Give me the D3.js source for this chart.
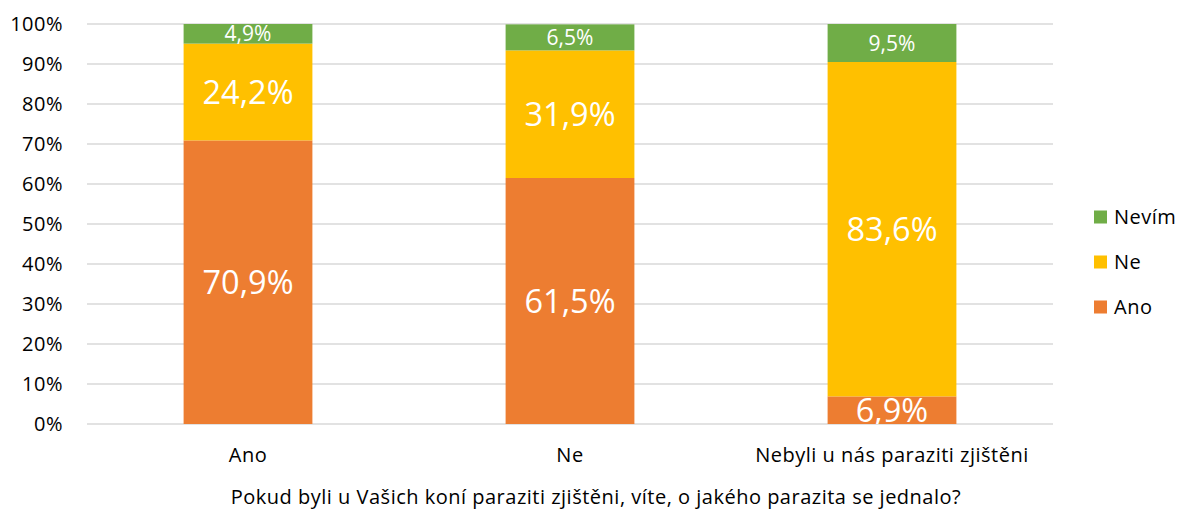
<!DOCTYPE html>
<html>
<head>
<meta charset="utf-8">
<script src="https://cdn.jsdelivr.net/npm/d3@7"></script>
<style>
  html, body { margin: 0; padding: 0; background: #fff; }
  svg { display: block; font-family: "Open Sans", Lato, sans-serif; }
</style>
</head>
<body>
<svg id="chart" width="1177" height="511"></svg>
<script>
// Answer categories on the x axis
const categories = ["Ano", "Ne", "Nebyli u nás paraziti zjištěni"];
// Stacked series (bottom to top), values in percent
const seriesNames = ["Ano", "Ne", "Nevím"];
const anoValues = [70.9, 61.5, 6.9];
const neValues = [24.2, 31.9, 83.6];
const nevimValues = [4.9, 6.5, 9.5];
const yTicks = [0, 10, 20, 30, 40, 50, 60, 70, 80, 90, 100];
const axisTitle = "Pokud byli u Vašich koní paraziti zjištěni, víte, o jakého parazita se jednalo?";

const colors = { "Ano": "#ED7D31", "Ne": "#FFC000", "Nevím": "#70AD47" };
const FONT = "'Open Sans', Lato, sans-serif";
const textSize = 20;
const spacing = "0.5px";

const svg = d3.select("#chart");
const plot = { left: 87, right: 1053, top: 24, bottom: 424 };

const x = d3.scaleBand()
  .domain(categories)
  .range([plot.left, plot.right])
  .paddingInner(0.6)
  .paddingOuter(0.3);

const y = d3.scaleLinear().domain([0, 100]).range([plot.bottom, plot.top]);

// Table of rows for the stack layout
const rows = categories.map((c, i) => ({
  cat: c, "Ano": anoValues[i], "Ne": neValues[i], "Nevím": nevimValues[i]
}));
const stacked = d3.stack().keys(seriesNames)(rows);

// Gridlines
svg.append("g")
  .selectAll("line")
  .data(yTicks)
  .join("line")
  .attr("x1", plot.left).attr("x2", plot.right)
  .attr("y1", d => y(d)).attr("y2", d => y(d))
  .attr("stroke", "#D9D9D9").attr("stroke-width", 1.3);

// Y axis labels
const yAxis = d3.axisLeft(y).tickValues(yTicks).tickFormat(d => d + "%").tickSize(0).tickPadding(0);
const gy = svg.append("g").attr("transform", `translate(${plot.left - 24},0)`).call(yAxis);
gy.select(".domain").remove();
gy.selectAll("text").attr("font-size", textSize).attr("letter-spacing", spacing)
  .attr("fill", "#000").attr("font-family", FONT);

// X axis labels
const xAxis = d3.axisBottom(x).tickSize(0).tickPadding(0);
const gx = svg.append("g").attr("transform", `translate(0,${plot.bottom + 31})`).call(xAxis);
gx.select(".domain").remove();
gx.selectAll("text").attr("dy", "0.36em").attr("font-size", textSize).attr("letter-spacing", spacing)
  .attr("fill", "#000").attr("font-family", FONT);

// Clip labels to the plotting area
svg.append("clipPath").attr("id", "plotClip")
  .append("rect")
  .attr("x", plot.left).attr("y", plot.top)
  .attr("width", plot.right - plot.left).attr("height", plot.bottom - plot.top);

// Bars
const layers = svg.append("g").selectAll("g")
  .data(stacked)
  .join("g")
  .attr("fill", d => colors[d.key]);

layers.selectAll("rect")
  .data(d => d)
  .join("rect")
  .attr("x", d => x(d.data.cat))
  .attr("width", x.bandwidth())
  .attr("y", d => y(d[1]))
  .attr("height", d => y(d[0]) - y(d[1]));

// Value labels
const labels = svg.append("g").attr("clip-path", "url(#plotClip)");
stacked.forEach(layer => {
  layer.forEach(d => {
    const small = layer.key === "Nevím";
    labels.append("text")
      .attr("x", x(d.data.cat) + x.bandwidth() / 2)
      .attr("y", y((d[0] + d[1]) / 2))
      .attr("dy", "0.36em")
      .attr("text-anchor", "middle")
      .attr("fill", "#fff")
      .attr("font-size", small ? 21 : 32.5)
      .text(d3.format(".1f")(d.data[layer.key]).replace(".", ",") + "%");
  });
});

// Legend (top entry is the top series)
const legendItems = seriesNames.slice().reverse();
const lg = svg.append("g").attr("transform", "translate(1094,0)");
legendItems.forEach((name, i) => {
  const cy = 217 + i * 45;
  lg.append("rect").attr("x", 0).attr("y", cy - 6.5).attr("width", 13).attr("height", 13).attr("fill", colors[name]);
  lg.append("text").attr("x", 20).attr("y", cy).attr("dy", "0.36em")
    .attr("font-size", textSize).attr("letter-spacing", spacing).attr("fill", "#000").text(name);
});

// Axis title
svg.append("text")
  .attr("x", 596).attr("y", 497).attr("dy", "0.36em")
  .attr("text-anchor", "middle").attr("font-size", textSize).attr("letter-spacing", spacing)
  .attr("fill", "#000")
  .text(axisTitle);
</script>
</body>
</html>
